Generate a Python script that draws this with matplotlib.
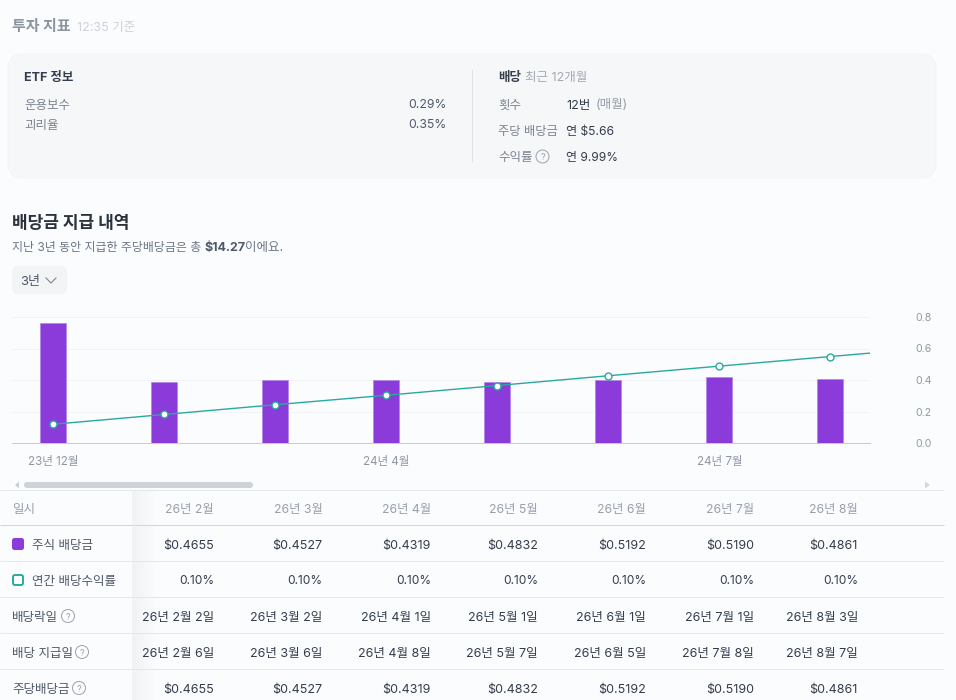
import numpy as np
import matplotlib
matplotlib.use("Agg")
import matplotlib.pyplot as plt
from matplotlib.patches import FancyBboxPatch, Circle

plt.rcParams['font.family'] = ['Inter', 'Noto Sans CJK KR', 'DejaVu Sans']

# ---------- data ----------
bar_values = [0.76, 0.389, 0.401, 0.403, 0.386, 0.401, 0.416, 0.408]
line_values = [0.119, 0.181, 0.243, 0.303, 0.365, 0.427, 0.488, 0.549, 0.61]
x_tick_pos = [0, 3, 6]
x_tick_labels = ['23년 12월', '24년 4월', '24년 7월']
y_ticks = [0.0, 0.2, 0.4, 0.6, 0.8]

months = ['26년 2월', '26년 3월', '26년 4월', '26년 5월', '26년 6월', '26년 7월', '26년 8월']
dividends = ['$0.4655', '$0.4527', '$0.4319', '$0.4832', '$0.5192', '$0.5190', '$0.4861']
yields = ['0.10%'] * 7
ex_dates = ['26년 2월 2일', '26년 3월 2일', '26년 4월 1일', '26년 5월 1일', '26년 6월 1일', '26년 7월 1일', '26년 8월 3일']
pay_dates = ['26년 2월 6일', '26년 3월 6일', '26년 4월 8일', '26년 5월 7일', '26년 6월 5일', '26년 7월 8일', '26년 8월 7일']
per_share = dividends

W, H = 956, 700
BG = '#fbfcfe'
PURPLE = '#8a3bd9'
TEAL = '#2aa99f'
DARK = '#333d4b'
MID = '#4e5968'
GRAY = '#8b95a1'


def pt(px):
    return px * 0.72


fig = plt.figure(figsize=(W / 100, H / 100), dpi=100, facecolor=BG)

# page layer in pixel coordinates
page = fig.add_axes([0, 0, 1, 1], zorder=1)
page.set_xlim(0, W)
page.set_ylim(H, 0)
page.axis('off')


def T(x, y, s, size=12, color=MID, weight='normal', ha='left'):
    return page.text(x, y, s, fontsize=pt(size), color=color, fontweight=weight,
                     ha=ha, va='center_baseline')


def help_icon(x, y, r=6.5, color='#9aa2ac'):
    page.add_patch(Circle((x, y), r, fc='none', ec=color, lw=0.7))
    page.text(x, y, '?', fontsize=pt(9), color=color, ha='center', va='center_baseline')


# header
T(12, 26, '투자 지표', 15, GRAY, 'bold')
T(77, 26, '12:35 기준', 12.5, '#cdd2d8')

# info card
page.add_patch(FancyBboxPatch((8, 54), 928, 124, boxstyle='round,pad=0,rounding_size=15',
                              fc='#f6f7f9', ec='#f3f4f6', lw=0.6))
page.plot([472.5, 472.5], [70, 162], color='#dfe2e6', lw=0.72)
T(24, 76, 'ETF 정보', 12.5, DARK, 'bold')
T(24, 104, '운용보수', 12.5, '#7b8490')
T(24, 124, '괴리율', 12.5, '#7b8490')
T(446.5, 104, '0.29%', 12.2, MID, ha='right')
T(446.5, 124, '0.35%', 12.2, MID, ha='right')
T(498.5, 76, '배당', 12.5, DARK, 'bold')
T(525, 76, '최근 12개월', 12.5, '#a2a9b2')
T(498.5, 104, '횟수', 12.5, '#7b8490')
T(498.5, 130, '주당 배당금', 12.3, '#7b8490')
T(498.5, 156, '수익률', 12.5, '#7b8490')
help_icon(542.5, 156.5)
T(566.5, 104, '12번', 12.5, DARK)
T(595.5, 104, '(매월)', 12.5, '#949ca6')
T(566.5, 130, '연 $5.66', 12.1, DARK)
T(566.5, 156, '연 9.99%', 12, DARK)

# section heading
T(12, 221, '배당금 지급 내역', 17, '#2b323c', 'bold')
T(12, 246, '지난 3년 동안 지급한 주당배당금은 총', 11.9, '#6b7684')
T(204.5, 246, '$14.27', 12.5, MID, 'bold')
T(245.5, 246, '이에요.', 12.5, '#6b7684')
page.add_patch(FancyBboxPatch((12, 266), 55, 28, boxstyle='round,pad=0,rounding_size=6',
                              fc='#f2f4f6', ec='none'))
T(20, 280, '3년', 13, MID)
page.plot([46, 51, 56], [278, 283, 278], color='#7b8490', lw=0.8)

# scrollbar
page.add_patch(FancyBboxPatch((24, 482), 229, 6, boxstyle='round,pad=0,rounding_size=3',
                              fc='#ced3da', ec='none'))
page.fill([19, 15, 19], [481.5, 485, 488.5], color='#c9ced5', lw=0)
page.fill([925, 930, 925], [481.5, 485, 488.5], color='#d5d9de', lw=0)

# table
rule_ys = [490, 525, 561, 597, 633, 669]
rule_cols = ['#e4e7eb', '#cfd3da', '#e4e7eb', '#e4e7eb', '#e4e7eb', '#e4e7eb']
for ry, rc in zip(rule_ys, rule_cols):
    page.plot([0, 944], [ry, ry], color=rc, lw=0.72, zorder=1, solid_capstyle='butt')

grad = np.linspace(0, 1, 32).reshape(1, -1)
page.imshow(np.dstack([np.full_like(grad, 0.90), np.full_like(grad, 0.905), np.full_like(grad, 0.915),
                       0.45 * (1 - grad)]), extent=(132, 156, 700, 491), aspect='auto', zorder=2,
            interpolation='bilinear')
page.set_xlim(0, W)
page.set_ylim(H, 0)

col_right = [214, 322.5, 431, 538, 646, 754, 858]
row_y = [508, 544, 580, 616, 652, 688]
T(12, row_y[0], '일시', 12.5, '#98a0aa')
page.add_patch(FancyBboxPatch((12, 538), 12, 12, boxstyle='round,pad=0,rounding_size=2.5',
                              fc=PURPLE, ec='none', zorder=3))
T(32, row_y[1], '주식 배당금', 12.5, MID)
page.add_patch(FancyBboxPatch((13, 575), 10, 10, boxstyle='round,pad=0,rounding_size=2',
                              fc=BG, ec=TEAL, lw=1.4, zorder=3))
T(32, row_y[2], '연간 배당수익률', 12.5, MID)
T(12, row_y[3], '배당락일', 12.5, MID)
help_icon(68, 616)
T(12, row_y[4], '배당 지급일', 12.5, MID)
help_icon(82, 652)
T(12, row_y[5], '주당배당금', 12.5, MID)
help_icon(79, 688)

rows = [(months, 12.3, '#98a0aa'), (dividends, 12.5, DARK), (yields, 12, DARK),
        (ex_dates, 12.5, DARK), (pay_dates, 12.5, DARK), (per_share, 12.5, DARK)]
for (vals, size, color), y in zip(rows, row_y):
    for xr, v in zip(col_right, vals):
        T(xr, y, v, size, color, ha='right')

# chart layer: pixel box 12..870 horizontally, 0-value at 443, 0.8 at 317
left, right, bottom, top = 12, 870, 443, 317
ax = fig.add_axes([left / W, 1 - bottom / H, (right - left) / W, (bottom - top) / H], zorder=2)
ax.patch.set_alpha(0)
step = 111.0
first = 53.3
ax.set_xlim((left - first) / step, (right - first) / step)
ax.set_ylim(0, 0.8)
for s in ['top', 'left', 'right']:
    ax.spines[s].set_visible(False)
ax.spines['bottom'].set_color('#c6cad2')
ax.spines['bottom'].set_linewidth(0.72)
ax.set_axisbelow(True)
ax.yaxis.grid(True, color='#f1f3f6', lw=0.72)
ax.xaxis.grid(False)

xs = np.arange(len(bar_values))
ax.bar(xs, bar_values, width=26 / step, color=PURPLE, edgecolor='#b184e8', linewidth=0.5, zorder=2)
lx = np.arange(len(line_values))
ax.plot(lx, line_values, color=TEAL, lw=1.0, zorder=3)
ax.plot(lx, line_values, ls='none', marker='o', ms=5, mfc='white', mec=TEAL, mew=1.0, zorder=4)

ax.set_xticks(x_tick_pos)
ax.set_xticklabels(x_tick_labels, fontsize=pt(11.6), color='#8f97a2')
ax.tick_params(axis='x', length=0, pad=9.5)
ax.yaxis.tick_right()
ax.set_yticks(y_ticks)
ax.set_yticklabels([f'{v:.1f}' for v in y_ticks], fontsize=pt(10.5), color='#8a9e96')
ax.tick_params(axis='y', length=0, pad=33)

fig.savefig('out.png', dpi=100, facecolor=BG)
